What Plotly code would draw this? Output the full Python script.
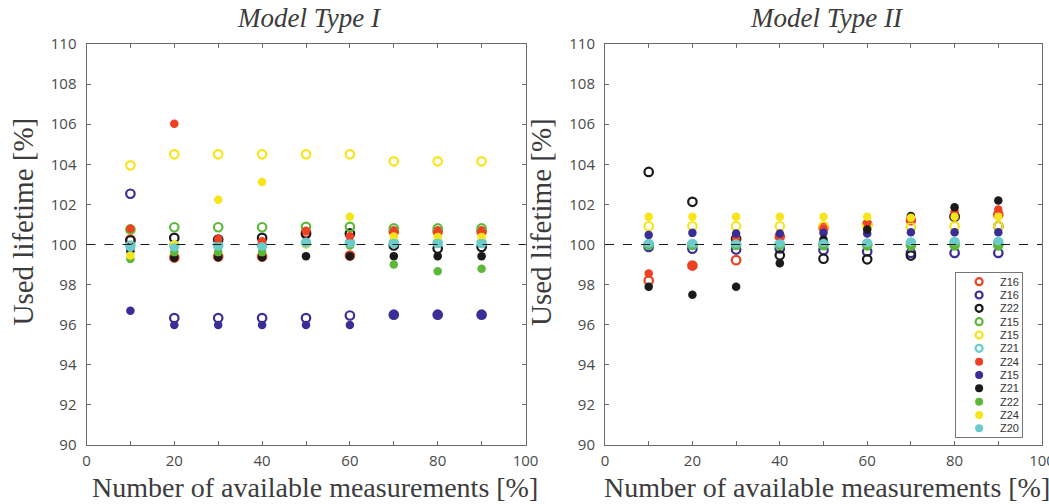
import plotly.graph_objects as go
from plotly.subplots import make_subplots

# ---------------- data ----------------
x_meas = [10, 20, 30, 40, 50, 60, 70, 80, 90]

series_names = ["Z16", "Z16", "Z22", "Z15", "Z15", "Z21",
                "Z24", "Z15", "Z21", "Z22", "Z24", "Z20"]
series_colors = ["#EE4124", "#3A2E96", "#1A1A1A", "#5DB83A", "#F7E51A", "#6CCBCB",
                 "#EE4124", "#3A2E96", "#1A1A1A", "#5DB83A", "#F7E51A", "#6CCBCB"]
series_filled = [False] * 6 + [True] * 6

# Model Type I
m1_z16_red_open = [100.25, 99.35, 99.4, 99.4, 100.6, 99.45, 100.65, 100.65, 100.65]
m1_z16_blue_open = [102.53, 96.33, 96.33, 96.33, 96.33, 96.46, 96.5, 96.5, 96.5]
m1_z22_black_open = [100.2, 100.33, 100.25, 100.33, 100.52, 100.55, 99.95, 99.8, 99.88]
m1_z15_green_open = [100.75, 100.86, 100.86, 100.86, 100.88, 100.88, 100.8, 100.8, 100.8]
m1_z15_yellow_open = [103.95, 104.5, 104.5, 104.5, 104.5, 104.5, 104.15, 104.15, 104.15]
m1_z21_cyan_open = [99.95, 99.95, 99.95, 99.95, 100.08, 100.08, 100.08, 100.08, 100.08]
m1_z24_red_fill = [100.78, 106.02, 100.28, 100.16, 100.68, 100.41, 100.62, 100.62, 100.62]
m1_z15_blue_fill = [96.7, 95.98, 95.98, 95.98, 95.98, 95.98, 96.5, 96.5, 96.5]
m1_z21_black_fill = [99.67, 99.34, 99.37, 99.37, 99.42, 99.42, 99.42, 99.42, 99.42]
m1_z22_green_fill = [99.28, 99.62, 99.62, 99.62, 100.02, 99.95, 99.0, 98.67, 98.79]
m1_z24_yellow_fill = [99.45, 100.0, 102.23, 103.12, 100.0, 101.38, 100.4, 100.38, 100.38]
m1_z20_cyan_fill = [99.85, 99.85, 99.9, 99.9, 100.05, 100.05, 100.08, 100.08, 100.08]

# Model Type II
m2_z16_red_open = [98.2, 98.95, 99.22, 100.4, 100.85, 101.0, 101.21, 101.38, 101.49]
m2_z16_blue_open = [99.88, 99.79, 99.75, 99.8, 99.72, 99.65, 99.58, 99.58, 99.58]
m2_z22_black_open = [103.62, 102.13, 100.28, 99.46, 99.29, 99.26, 99.45, 101.4, 100.91]
m2_z15_green_open = [99.98, 99.98, 99.98, 99.98, 99.97, 99.96, 99.96, 99.96, 99.96]
m2_z15_yellow_open = [100.91, 100.91, 100.91, 100.91, 100.91, 100.95, 100.86, 100.91, 100.91]
m2_z21_cyan_open = [100.02, 100.02, 100.02, 100.02, 100.05, 100.05, 100.1, 100.12, 100.12]
m2_z24_red_fill = [98.55, 98.95, 100.28, 100.41, 100.8, 101.08, 101.28, 101.66, 101.74]
m2_z15_blue_fill = [100.48, 100.58, 100.55, 100.55, 100.58, 100.55, 100.61, 100.61, 100.61]
m2_z21_black_fill = [97.89, 97.49, 97.89, 99.07, 100.25, 100.75, 101.42, 101.86, 102.19]
m2_z22_green_fill = [99.98, 99.98, 99.98, 99.98, 99.97, 99.96, 99.96, 99.96, 99.96]
m2_z24_yellow_fill = [101.38, 101.38, 101.38, 101.38, 101.38, 101.38, 101.33, 101.38, 101.38]
m2_z20_cyan_fill = [100.05, 100.05, 100.05, 100.05, 100.08, 100.08, 100.12, 100.15, 100.16]

model1 = [m1_z16_red_open, m1_z16_blue_open, m1_z22_black_open, m1_z15_green_open,
          m1_z15_yellow_open, m1_z21_cyan_open, m1_z24_red_fill, m1_z15_blue_fill,
          m1_z21_black_fill, m1_z22_green_fill, m1_z24_yellow_fill, m1_z20_cyan_fill]
model2 = [m2_z16_red_open, m2_z16_blue_open, m2_z22_black_open, m2_z15_green_open,
          m2_z15_yellow_open, m2_z21_cyan_open, m2_z24_red_fill, m2_z15_blue_fill,
          m2_z21_black_fill, m2_z22_green_fill, m2_z24_yellow_fill, m2_z20_cyan_fill]

x_tick_vals = [0, 20, 40, 60, 80, 100]
panel_titles = ["Model Type I", "Model Type II"]
x_title = "Number of available measurements [%]"
y_title = "Used lifetime [%]"

# ---------------- figure ----------------
W, H = 1049, 504
fig = make_subplots(rows=1, cols=2)


def marker_for(i, size_fill=8.5, size_open=8.5):
    if series_filled[i]:
        return dict(symbol="circle", size=size_fill, color=series_colors[i],
                    line=dict(width=0))
    return dict(symbol="circle-open", size=size_open, color=series_colors[i],
                line=dict(width=2.2, color=series_colors[i]))


for col, data in ((1, model1), (2, model2)):
    for i, ys in enumerate(data):
        fig.add_trace(go.Scatter(
            x=x_meas, y=ys, mode="markers", name=series_names[i],
            marker=marker_for(i), showlegend=False), row=1, col=col)

# pixel geometry
left_px = [(86.5, 525.5), (605, 1042)]
top_px, bot_px = 44, 445
ydom = [(H - bot_px) / H, (H - top_px) / H]

axis_common = dict(showgrid=False, zeroline=False, showline=True,
                   linecolor="#6a6a6a", linewidth=1, mirror="ticks",
                   ticks="inside", ticklen=4, tickcolor="#6a6a6a",
                   ticklabeloverflow="allow",
                   tickfont=dict(family="Open Sans", size=15, color="#4a4a4a"))

for k, (xl, xr) in enumerate(left_px):
    xa = "xaxis" if k == 0 else "xaxis2"
    ya = "yaxis" if k == 0 else "yaxis2"
    fig.layout[xa].update(domain=[xl / W, xr / W], range=[0, 100],
                          tickvals=x_tick_vals, ticklabelstandoff=2,
                          minor=dict(tick0=0, dtick=10, ticks="inside", ticklen=4,
                                     tickcolor="#6a6a6a", showgrid=False),
                          **axis_common)
    fig.layout[ya].update(domain=ydom, range=[90, 110], dtick=2,
                          ticklabelstandoff=6, **axis_common)
    # dashed 100 % reference line
    fig.add_shape(type="line", xref=("x domain" if k == 0 else "x2 domain"),
                  yref=("y" if k == 0 else "y2"), x0=0, x1=1, y0=100, y1=100,
                  line=dict(color="#1a1a1a", width=1.2, dash="dash"))
    cx = (xl + xr) / 2 / W
    fig.add_annotation(text="<i>" + panel_titles[k] + "</i>", xref="paper", yref="paper",
                       x=cx + 4 / W, y=1 - 18 / H, xanchor="center", yanchor="middle",
                       showarrow=False,
                       font=dict(family="Liberation Serif", size=27, color="#3c3c3c"))
    fig.add_annotation(text=x_title, xref="paper", yref="paper",
                       x=cx + (9 if k == 0 else 3) / W, y=1 - 487 / H,
                       xanchor="center", yanchor="middle", showarrow=False,
                       font=dict(family="Liberation Serif", size=28, color="#3c3c3c"))
    fig.add_annotation(text=y_title, xref="paper", yref="paper",
                       x=(xl - 64) / W, y=1 - 222 / H, xanchor="center", yanchor="middle",
                       showarrow=False, textangle=-90,
                       font=dict(family="Liberation Serif", size=29, color="#3c3c3c"))

# ---------------- legend box (compact, drawn on its own small axes) ----------------
leg_l, leg_r, leg_t, leg_b = 956, 1022, 273, 437
n_items = len(series_names)
fig.update_layout(
    xaxis3=dict(domain=[leg_l / W, leg_r / W], range=[0, 1], anchor="y3",
                showline=True, mirror=True, linecolor="#777777", linewidth=1,
                showgrid=False, zeroline=False, showticklabels=False, ticks="",
                fixedrange=True),
    yaxis3=dict(domain=[(H - leg_b) / H, (H - leg_t) / H],
                range=[n_items - 0.5 + 0.15, -0.5 - 0.15], anchor="x3",
                showline=True, mirror=True, linecolor="#777777", linewidth=1,
                showgrid=False, zeroline=False, showticklabels=False, ticks="",
                fixedrange=True),
)
for i in range(n_items):
    fig.add_trace(go.Scatter(x=[0.35], y=[i], xaxis="x3", yaxis="y3",
                             mode="markers", marker=marker_for(i, 8, 7),
                             showlegend=False, hoverinfo="skip"))
    fig.add_annotation(text=series_names[i], xref="x3", yref="y3", x=0.64, y=i,
                       xanchor="left", yanchor="middle", showarrow=False,
                       font=dict(family="Liberation Sans", size=11, color="#333333"))

fig.update_layout(
    width=W, height=H, margin=dict(l=0, r=0, t=0, b=0, autoexpand=False),
    paper_bgcolor="white", plot_bgcolor="white", showlegend=False,
)

fig.write_html("out.html", config={"displayModeBar": False},
               post_script="document.body.style.margin='0';document.body.style.overflow='hidden';")
